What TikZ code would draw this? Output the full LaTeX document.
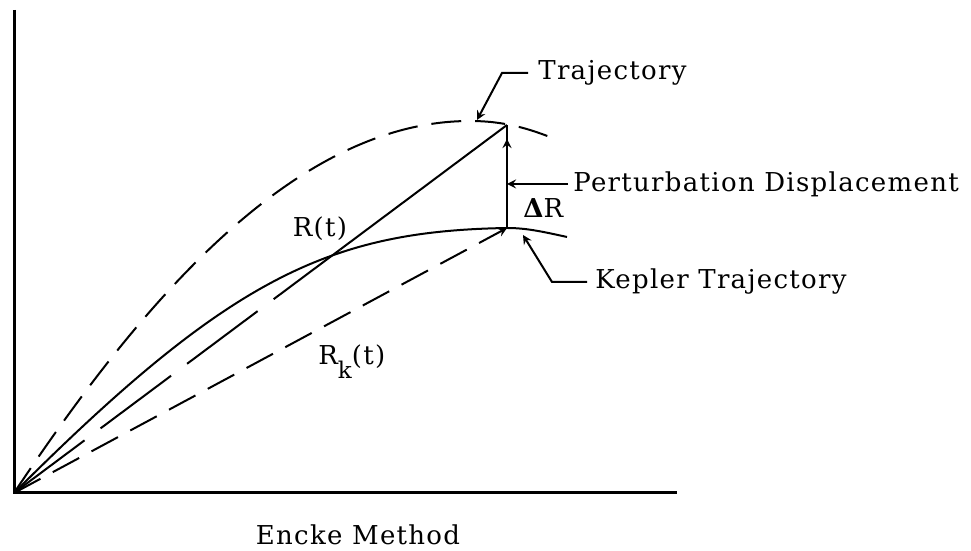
\documentclass[tikz,border=0pt]{standalone}
\usepackage{fontspec}
\setmainfont{DejaVu Serif}[LetterSpace=5]
\usetikzlibrary{calc}
\tikzset{
  axis/.style={line width=1.5pt},
  curve/.style={line width=1pt},
  traj/.style={curve,dash pattern=on 15pt off 7pt},
  rline/.style={curve,dash pattern=on 44pt off 10pt},
  lead/.style={line width=1pt},
  lbl/.style={inner sep=0pt,font=\fontsize{13}{15}\selectfont},
}
\begin{document}
\begin{tikzpicture}[x=0.5pt,y=0.5pt,>=stealth]
  \useasboundingbox (0,0) rectangle (971,551);
  \coordinate (O) at (14,58);
  \coordinate (Ytop) at (14,541);
  \coordinate (Xend) at (677,58);
  \coordinate (T) at (507,426);
  \coordinate (K) at (507,323);
  \coordinate (C) at ($(O)!0.662!(T)$);
  \coordinate (traj tip) at (477,431);
  \coordinate (kep tip) at (523,316);
  \draw[axis] (Ytop) -- (O) -- (Xend);
  % perturbed and kepler orbits
  \draw[traj] (O) .. controls (134,238) and (290,430) .. (470,430)
    .. controls (505,430) and (530,422) .. (555,412);
  \draw[curve] (O) .. controls (230,274) and (330,320) .. (K)
    .. controls (525,323) and (540,320) .. (567,314);
  % radius vectors
  \draw[rline] (O) -- (C);
  \draw[curve] (C) -- (T);
  \draw[traj,->] (O) -- (K);
  \draw[curve] (K) -- (T);
  \draw[curve,->] (K) -- ([yshift=-7pt]T);
  % labels
  \node[lbl,anchor=west] (traj) at (538,478) {Trajectory};
  \node[lbl,anchor=west] (pert) at (573,367) {Perturbation Displacement};
  \node[lbl,anchor=west] (kep) at (595,269) {Kepler Trajectory};
  \node[lbl,anchor=base] (rt) at (320,314) {R(t)};
  \node[lbl,anchor=base west] (rk) at (318,186) {R\raisebox{-7pt}{\fontsize{11.5}{13}\selectfont k}(t)};
  \node[lbl,anchor=base west] (dr) at (523,333) {{\bfseries Δ}R};
  \node[lbl,anchor=base] (title) at (358,6) {Encke Method};
  \draw[lead,->] ($(traj.west)+(-10,0)$) -- ++(-26,0) -- (traj tip);
  \draw[lead,->] ($(pert.west)+(-5,0)$) -- (pert.west -| K);
  \draw[lead,->] ($(kep.west)+(-8,0)$) -- ++(-35,0) -- (kep tip);
\end{tikzpicture}
\end{document}
